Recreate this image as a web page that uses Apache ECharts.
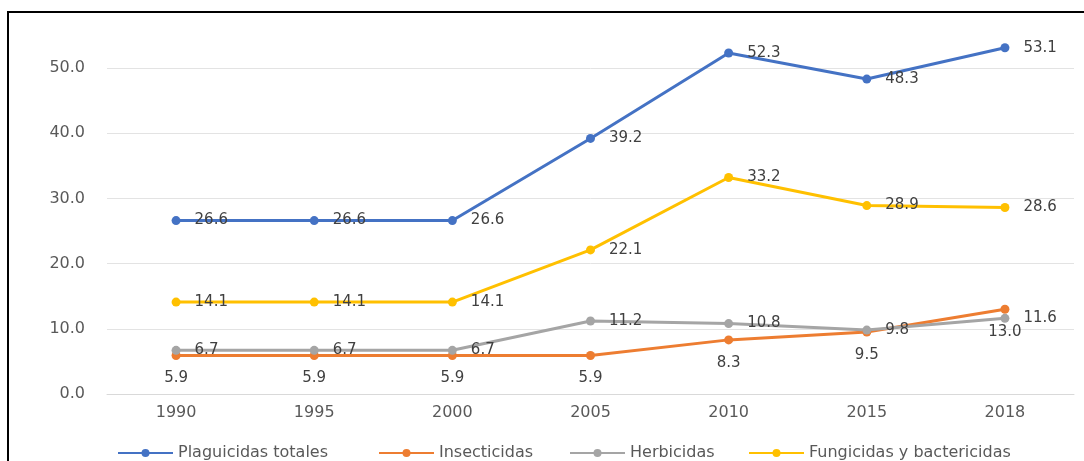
<!DOCTYPE html>
<html>
<head>
<meta charset="utf-8">
<script src="https://cdn.jsdelivr.net/npm/echarts@6/dist/echarts.min.js"></script>
<style>
html,body{margin:0;padding:0;background:#fff;}
#chart{width:1084px;height:461px;}
</style>
</head>
<body>
<div id="chart"></div>
<script>
const years = ['1990','1995','2000','2005','2010','2015','2018'];
const plaguicidasTotales = [26.6, 26.6, 26.6, 39.2, 52.3, 48.3, 53.1];
const insecticidas = [5.9, 5.9, 5.9, 5.9, 8.3, 9.5, 13.0];
const herbicidas = [6.7, 6.7, 6.7, 11.2, 10.8, 9.8, 11.6];
const fungicidas = [14.1, 14.1, 14.1, 22.1, 33.2, 28.9, 28.6];
const seriesNames = ['Plaguicidas totales','Insecticidas','Herbicidas','Fungicidas y bactericidas'];
const colors = ['#4472C4','#ED7D31','#A5A5A5','#FFC000'];

const FONT = 'DejaVu Sans';
const chart = echarts.init(document.getElementById('chart'));

function mkSeries(name, data, color, labelPos) {
  return {
    name: name,
    type: 'line',
    data: data,
    clip: false,
    symbol: 'circle',
    symbolSize: 9,
    lineStyle: {width: 3, color: color},
    itemStyle: {color: color},
    label: {
      show: true,
      position: labelPos,
      distance: labelPos === 'bottom' ? 11 : 14,
      color: '#404040',
      fontFamily: FONT,
      fontSize: 15,
      formatter: p => p.value.toFixed(1)
    },
    emphasis: {disabled: true},
    animation: false
  };
}

const legendLefts = [112, 373, 564, 743];
const legends = seriesNames.map((n, i) => ({
  data: [n],
  left: legendLefts[i],
  top: 440,
  itemWidth: 55,
  itemHeight: 10,
  itemGap: 5,
  textStyle: {color: '#595959', fontFamily: FONT, fontSize: 16},
  selectedMode: false
}));

chart.setOption({
  backgroundColor: '#fff',
  animation: false,
  color: colors,
  grid: {left: 107, right: 10, top: 68, bottom: 67},
  legend: legends,
  xAxis: {
    type: 'category',
    data: years,
    boundaryGap: true,
    axisLine: {show: true, lineStyle: {color: '#D9D9D9', width: 1}},
    axisTick: {show: false},
    axisLabel: {color: '#595959', fontFamily: FONT, fontSize: 16, margin: 11}
  },
  yAxis: {
    type: 'value',
    min: 0,
    max: 50,
    interval: 10,
    axisLine: {show: false},
    axisTick: {show: false},
    splitLine: {lineStyle: {color: '#E3E3E3', width: 1}},
    axisLabel: {color: '#595959', fontFamily: FONT, fontSize: 16, margin: 22,
      formatter: v => v.toFixed(1)}
  },
  graphic: [{
    type: 'rect',
    shape: {x: 8, y: 12, width: 1100, height: 500},
    style: {fill: 'none', stroke: '#000', lineWidth: 2},
    silent: true
  }],
  series: [
    mkSeries(seriesNames[0], plaguicidasTotales, colors[0], 'right'),
    mkSeries(seriesNames[1], insecticidas, colors[1], 'bottom'),
    mkSeries(seriesNames[2], herbicidas, colors[2], 'right'),
    mkSeries(seriesNames[3], fungicidas, colors[3], 'right')
  ]
});
</script>
</body>
</html>
